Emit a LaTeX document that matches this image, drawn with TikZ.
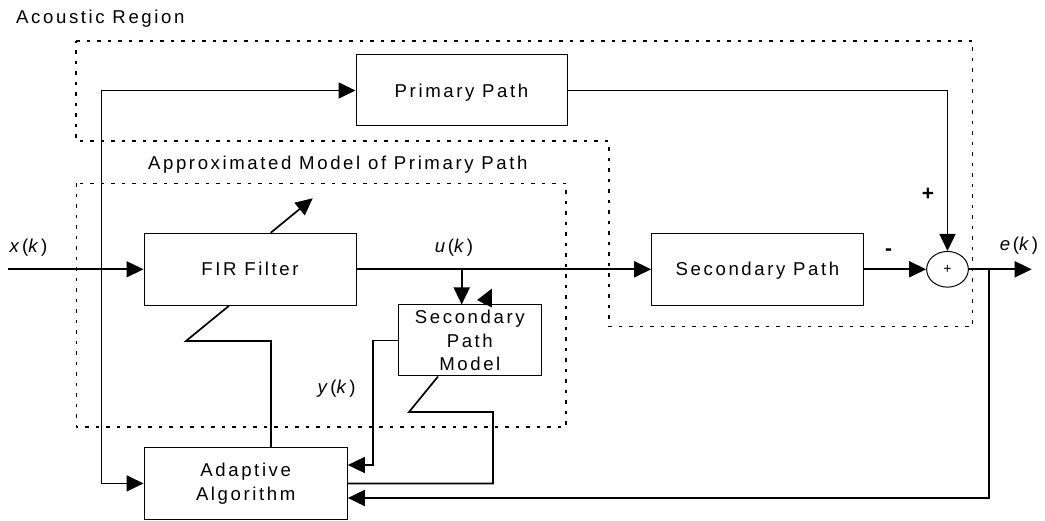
\documentclass[tikz,border=0pt]{standalone}
\usepackage{fontspec}
\setmainfont{Liberation Sans}[LetterSpace=14]
\usetikzlibrary{arrows.meta,shapes.geometric}

\begin{document}
\begin{tikzpicture}[x=1pt,y=-1pt,
  every node/.style={font=\fontsize{18.6}{23.7}\selectfont,inner sep=0pt},
  box/.style={draw,line width=1pt,text height=13.3pt,text depth=0pt},
  mbox/.style={draw,line width=1pt,align=center},
  wire/.style={line width=1.7pt},
  arr/.style={wire,-{Triangle[length=17pt,width=16pt]}},
  region/.style={line width=1.3pt,dash pattern=on 3.5pt off 7pt},
  sign/.style={font=\fontsize{21}{21}\selectfont\bfseries},
]
\useasboundingbox (0,0) rectangle (1045,521);

% dotted regions
\draw[region] (76,41) -- (972.7,41) -- (972.7,326.7) -- (609,326.7)
  -- (609,141) -- (76,141) -- cycle;
\draw[region] (76.5,183.5) rectangle (566,427);

% blocks
\node[box,minimum width=211pt,minimum height=71pt] (primary) at (461.5,90.5) {Primary Path};
\node[box,minimum width=212pt,minimum height=72pt] (fir) at (250,269.3) {FIR Filter};
\node[box,minimum width=211.6pt,minimum height=71.7pt] (sec) at (757.5,269.3) {Secondary Path};
\node[mbox,minimum width=143.5pt,minimum height=71pt] (spm) at (469.8,340.5) {Secondary\\Path\\Model};
\node[mbox,minimum width=203.3pt,minimum height=71.3pt] (adapt) at (245.7,483.4) {Adaptive\\Algorithm};
\node[draw,ellipse,line width=1pt,minimum width=41.7pt,minimum height=35.7pt,
  font=\fontsize{14}{14}\selectfont] (sum) at (947.5,269.3) {+};

% texts
\node[anchor=base west] (acoustic) at (16,23.3) {Acoustic Region};
\node[anchor=base] (approx) at (337.8,169.5) {Approximated Model of Primary Path};
\node (xk) at (28.5,247.5) {\textit{x}(\textit{k})};
\node (uk) at (454,247.5) {\textit{u}(\textit{k})};
\node (yk) at (336.5,389) {\textit{y}(\textit{k})};
\node (ek) at (1019,245.5) {\textit{e}(\textit{k})};
\node[sign] (plus) at (928,194.5) {+};
\node[sign] (minus) at (888.5,252) {-};

% signal connections
\coordinate (xin) at (8,269.3);
\coordinate (xtap) at (101.5,269.3);
\coordinate (ubr) at (461.7,269.3);
\coordinate (ebr) at (989.3,269.3);
\coordinate (eout) at (1031.7,269.3);
\coordinate (ycorner) at (373,465);

\draw[arr] (xin) -- (fir.west);
\draw[arr] (xtap) |- (primary.west);
\draw[arr] (xtap) |- (adapt.west);
\draw[arr] (fir.east) -- (sec.west);
\draw[arr] (ubr) -- (ubr |- spm.north);
\draw[arr] (sec.east) -- (sum.west);
\draw[arr] (primary.east) -| (sum.north);
\draw[arr] (sum.east) -- (eout);
\draw[arr] (ebr) |- (adapt.east |- 0,498);
\draw[arr] (spm.west) -| (ycorner) -- (ycorner -| adapt.east);

% adaptation paths
\draw[wire] (fir.south -| 229,0) -- (186,341) -- (271,341) -- (adapt.north -| 271,0);
\draw[wire] (spm.south -| 438,0) -- (409,412) -- (493,412) -- (493,483.4) -- (adapt.east);

% adjustable-parameter arrows
\draw[arr] (fir.north -| 270.7,0) -- (312.7,198.3);
\draw[arr] (spm.north -| 484,0) -- (492,288.5);
\end{tikzpicture}
\end{document}
